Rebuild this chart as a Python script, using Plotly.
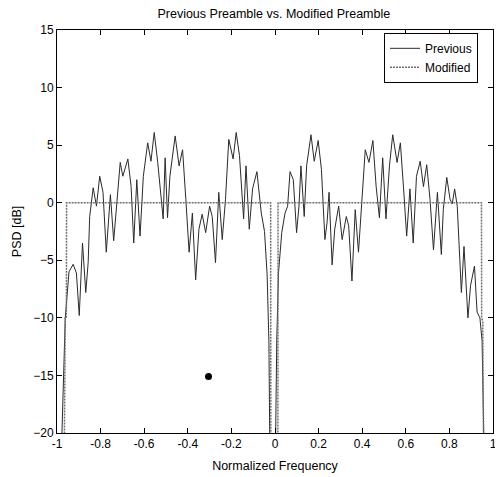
import plotly.graph_objects as go

# Previous preamble PSD (normalized frequency, dB)
prev_f = [-0.985, -0.962, -0.945, -0.933, -0.926, -0.911, -0.898, -0.883, -0.868, -0.857,
          -0.850, -0.834, -0.819, -0.804, -0.789, -0.774, -0.755, -0.740, -0.725, -0.710,
          -0.698, -0.675, -0.660, -0.648, -0.634, -0.619, -0.604, -0.584, -0.569, -0.554,
          -0.538, -0.519, -0.513, -0.504, -0.493, -0.482, -0.458, -0.440, -0.424, -0.409,
          -0.394, -0.379, -0.364, -0.349, -0.334, -0.318, -0.300, -0.288, -0.273, -0.258,
          -0.242, -0.227, -0.212, -0.192, -0.178, -0.163, -0.144, -0.133, -0.118, -0.103,
          -0.083, -0.063, -0.048, -0.036, -0.028, -0.022,
          0.000, 0.008, 0.016, 0.031, 0.046, 0.058, 0.069, 0.084, 0.099, 0.110,
          0.119, 0.134, 0.145, 0.165, 0.180, 0.198, 0.213, 0.229, 0.239, 0.248,
          0.262, 0.274, 0.292, 0.308, 0.327, 0.338, 0.353, 0.368, 0.383, 0.399,
          0.414, 0.431, 0.449, 0.464, 0.479, 0.494, 0.509, 0.525, 0.540, 0.560,
          0.575, 0.590, 0.604, 0.619, 0.634, 0.649, 0.666, 0.681, 0.696, 0.711,
          0.727, 0.745, 0.763, 0.772, 0.788, 0.803, 0.813, 0.824, 0.836, 0.855,
          0.867, 0.885, 0.897, 0.915, 0.927, 0.940, 0.950, 0.962]
prev_db = [-25.0, -10.0, -6.0, -5.5, -5.35, -6.1, -9.8, -3.5, -7.8, -5.2,
           -1.2, 1.3, -0.3, 2.3, 0.9, -4.3, 0.7, -3.3, 0.3, 3.5,
           2.3, 3.8, 1.4, -3.5, 2.0, -2.9, 2.3, 5.2, 3.6, 6.1,
           3.5, -0.6, -1.4, 3.9, -1.3, 2.3, 5.8, 3.2, 4.6, 0.3,
           -4.3, -0.9, -6.7, -2.3, -1.0, -2.6, -0.3, -1.2, -5.2, 0.9,
           -3.2, 0.3, 5.5, 3.8, 6.1, 4.1, -1.4, 3.2, -2.3, 1.2,
           2.7, -0.9, -2.5, -6.3, -12.0, -25.0,
           -25.0, -12.0, -6.1, -2.6, -0.9, -0.3, 2.7, 2.0, -2.6, -0.3,
           3.2, -1.2, 3.2, 5.9, 3.6, 5.4, 2.9, -3.2, -1.7, 0.9,
           -5.4, -2.3, -0.3, -3.2, -1.2, -2.0, -6.8, -0.6, -4.3, 0.3,
           4.6, 3.5, 5.4, 1.4, -1.3, 3.9, -1.4, 3.2, 5.9, 3.5,
           5.2, 1.2, -2.9, 1.2, -3.5, 2.3, 3.6, 1.4, 3.3, 0.3,
           -4.1, 0.9, -4.5, -0.6, 2.2, 0.3, -0.1, 1.2, -0.3, -7.8,
           -3.8, -10.0, -7.2, -5.5, -9.5, -10.0, -12.0, -25.0]

# Modified preamble PSD
mod_f = [-0.968, -0.962, -0.957, -0.956, -0.020, -0.019, 0.013, 0.014, 0.947, 0.948, 0.953, 0.958]
mod_db = [-25.0, -10.0, -10.0, 0.0, 0.0, -25.0, -25.0, 0.0, 0.0, -10.0, -10.3, -25.0]

# stray point in the picture
dot_f = [-0.305]
dot_db = [-15.1]

x_ticks = [-1, -0.8, -0.6, -0.4, -0.2, 0, 0.2, 0.4, 0.6, 0.8, 1]
x_tick_text = ["-1", "-0.8", "-0.6", "-0.4", "-0.2", "0", "0.2", "0.4", "0.6", "0.8", "1"]
y_ticks = [-20, -15, -10, -5, 0, 5, 10, 15]

font = "Arial, Liberation Sans, Helvetica, sans-serif"

fig = go.Figure()
fig.add_trace(go.Scatter(x=prev_f, y=prev_db, mode="lines", name="Previous",
                         line=dict(color="#2a2a2a", width=1)))
fig.add_trace(go.Scatter(x=mod_f, y=mod_db, mode="lines", name="Modified",
                         line=dict(color="#707070", width=1.5, dash="2px,1px")))
fig.add_trace(go.Scatter(x=dot_f, y=dot_db, mode="markers", showlegend=False,
                         marker=dict(color="black", size=7)))

axis_common = dict(showline=True, linecolor="black", linewidth=1, mirror="ticks",
                   ticks="inside", ticklen=5, tickcolor="black", showgrid=False,
                   zeroline=False,
                   tickfont=dict(family=font, size=12, color="black"))

# the page body has an 8px default margin; the figure is sized/offset for that
fig.update_layout(
    width=495, height=469,
    margin=dict(l=49, r=6, t=22, b=44),
    paper_bgcolor="white", plot_bgcolor="white",
    font=dict(family=font, size=12, color="black"),
    title=dict(text="Previous Preamble vs. Modified Preamble", x=0.537, xanchor="center",
               y=0.987, yanchor="middle", yref="container",
               font=dict(family=font, size=12.5, color="black")),
    xaxis=dict(range=[-1, 1], tickvals=x_ticks, ticktext=x_tick_text,
               title=dict(text="Normalized Frequency", standoff=10,
                          font=dict(family=font, size=12.5)), **axis_common),
    yaxis=dict(range=[-20, 15], tickvals=y_ticks,
               title=dict(text="PSD [dB]", standoff=8,
                          font=dict(family=font, size=12.5)), **axis_common),
    legend=dict(x=0.75, y=0.993, xanchor="left", yanchor="top",
                bgcolor="white", bordercolor="black", borderwidth=1,
                font=dict(family=font, size=12, color="black"),
                tracegroupgap=0, itemwidth=30),
    showlegend=True,
)

fig.write_html("out.html")
